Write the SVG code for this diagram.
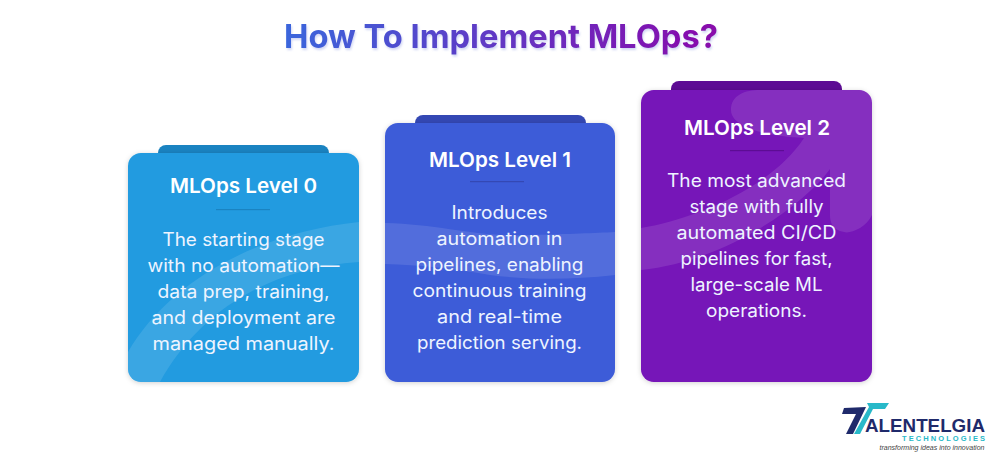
<svg xmlns="http://www.w3.org/2000/svg" width="1000" height="465" viewBox="0 0 1000 465">
<style>
text{font-family:"Inter","Open Sans","Liberation Sans",sans-serif;text-anchor:middle;fill:#fff}
.t{font-size:20.5px;font-weight:600}
.b{font-size:18px;font-weight:400;fill:#eef4ff}
.w{fill:#fff;fill-opacity:.11}
</style>
<defs>
<linearGradient id="tg" gradientUnits="userSpaceOnUse" x1="284" y1="0" x2="718" y2="0"><stop offset="0" stop-color="#3a66dc"/><stop offset="1" stop-color="#8a08ab"/></linearGradient>
<filter id="sh" x="-10%" y="-10%" width="120%" height="120%"><feDropShadow dx="0" dy="1" stdDeviation="2.5" flood-color="#000" flood-opacity=".18"/></filter>
<filter id="ts" x="-5%" y="-30%" width="110%" height="160%"><feDropShadow dx="1" dy="2" stdDeviation="1" flood-color="#7f8fe0" flood-opacity=".35"/></filter>
<clipPath id="c0"><rect x="128" y="153" width="231" height="229" rx="13"/></clipPath>
<clipPath id="c1"><rect x="385" y="123" width="230" height="259" rx="13"/></clipPath>
<clipPath id="c2"><rect x="641" y="90" width="231" height="292" rx="13"/></clipPath>
</defs>
<text id="title" x="501" y="48" textLength="434" lengthAdjust="spacingAndGlyphs" style="font-size:33px;font-weight:700;fill:url(#tg)" filter="url(#ts)">How To Implement MLOps?</text>

<g id="level0">
<rect x="158" y="145" width="171" height="24" rx="8" fill="#1a83c1"/>
<rect x="128" y="153" width="231" height="229" rx="13" fill="#209be0" filter="url(#sh)"/>
<path class="w" clip-path="url(#c0)" d="M128 352C170 280 260 232 359 222V262C270 268 200 310 160 382H128Z"/>
<text class="t" x="243.500" y="193" textLength="147" lengthAdjust="spacingAndGlyphs">MLOps Level 0</text>
<rect x="216" y="209" width="54" height="1.200" fill="#1a83c1"/>
<text class="b" x="243.500" y="246" textLength="162" lengthAdjust="spacingAndGlyphs">The starting stage</text>
<text class="b" x="243.500" y="272" textLength="192" lengthAdjust="spacingAndGlyphs">with no automation—</text>
<text class="b" x="243.500" y="298" textLength="172" lengthAdjust="spacingAndGlyphs">data prep, training,</text>
<text class="b" x="243.500" y="324" textLength="184" lengthAdjust="spacingAndGlyphs">and deployment are</text>
<text class="b" x="243.500" y="350" textLength="182" lengthAdjust="spacingAndGlyphs">managed manually.</text>
</g>

<g id="level1">
<rect x="415" y="115" width="171" height="24" rx="8" fill="#3448b4"/>
<rect x="385" y="123" width="230" height="259" rx="13" fill="#3d5bd8" filter="url(#sh)"/>
<path class="w" clip-path="url(#c1)" d="M385 223C440 224 480 238 530 235C570 234 595 233 615 232V275C570 280 530 280 490 275C450 268 420 265 385 264Z"/>
<text class="t" x="500" y="167" textLength="142" lengthAdjust="spacingAndGlyphs">MLOps Level 1</text>
<rect x="470" y="181" width="54" height="1.200" fill="#3448b4"/>
<text class="b" x="499.500" y="219" textLength="96" lengthAdjust="spacingAndGlyphs">Introduces</text>
<text class="b" x="499.500" y="245" textLength="126" lengthAdjust="spacingAndGlyphs">automation in</text>
<text class="b" x="499.500" y="271" textLength="168" lengthAdjust="spacingAndGlyphs">pipelines, enabling</text>
<text class="b" x="499.500" y="297" textLength="174" lengthAdjust="spacingAndGlyphs">continuous training</text>
<text class="b" x="499.500" y="323" textLength="125" lengthAdjust="spacingAndGlyphs">and real-time</text>
<text class="b" x="499.500" y="349" textLength="165" lengthAdjust="spacingAndGlyphs">prediction serving.</text>
</g>

<g id="level2">
<rect x="671" y="81" width="171" height="24" rx="8" fill="#5d0c94"/>
<rect x="641" y="90" width="231" height="292" rx="13" fill="#7612b8" filter="url(#sh)"/>
<path class="w" clip-path="url(#c2)" d="M641 228C690 220 770 190 804 138C792 138 731 133 731 110C731 95 745 90 760 90H872V215C866 228 850 234 844 232C832 230 830 222 830 215V169C800 210 720 262 641 270Z"/>
<text class="t" x="757" y="135" textLength="146" lengthAdjust="spacingAndGlyphs">MLOps Level 2</text>
<rect x="730" y="150" width="54" height="1.200" fill="#5d0c94"/>
<text class="b" x="756.500" y="187" textLength="179" lengthAdjust="spacingAndGlyphs">The most advanced</text>
<text class="b" x="756.500" y="213" textLength="134" lengthAdjust="spacingAndGlyphs">stage with fully</text>
<text class="b" x="756.500" y="239" textLength="160" lengthAdjust="spacingAndGlyphs">automated CI/CD</text>
<text class="b" x="756.500" y="265" textLength="152" lengthAdjust="spacingAndGlyphs">pipelines for fast,</text>
<text class="b" x="756.500" y="291" textLength="132" lengthAdjust="spacingAndGlyphs">large-scale ML</text>
<text class="b" x="756.500" y="317" textLength="101" lengthAdjust="spacingAndGlyphs">operations.</text>
</g>

<g id="logo">
<polygon points="844,408 866,407 853,434 846,434 856,414 842,414" fill="#1f2a6b"/>
<polygon points="867,403 889,403 885,409 873,409 860,434 854,434 869,407" fill="#28b9c9"/>
<text x="925" y="431.500" textLength="120" lengthAdjust="spacingAndGlyphs" style="font-size:18px;font-weight:700;fill:#1f2a6b;font-family:'Liberation Sans',sans-serif">ALENTELGIA</text>
<text x="943.500" y="441" textLength="83" lengthAdjust="spacing" style="font-size:7.500px;font-weight:700;fill:#28b9c9;font-family:'Liberation Sans',sans-serif">TECHNOLOGIES</text>
<text x="932" y="450" textLength="105" lengthAdjust="spacingAndGlyphs" style="font-size:7.500px;font-style:italic;fill:#444;font-family:'Liberation Sans',sans-serif">transforming ideas into innovation</text>
</g>
</svg>
